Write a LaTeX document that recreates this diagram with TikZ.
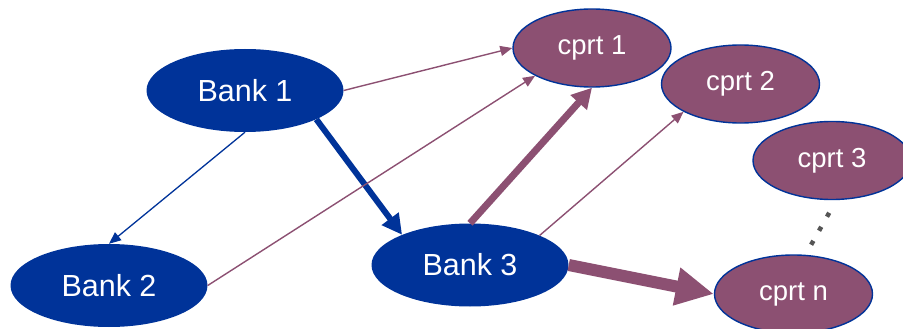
\documentclass[tikz,border=0pt]{standalone}
\usepackage{fontspec}
\setmainfont{Liberation Sans}
\usetikzlibrary{shapes.geometric,arrows.meta}
\definecolor{bankblue}{RGB}{0,51,153}
\definecolor{cprtpurple}{RGB}{140,80,114}
\definecolor{dotgray}{RGB}{85,85,85}
\tikzset{
  bank/.style={ellipse, fill=bankblue, draw=none, inner sep=0pt,
    minimum width=197pt, minimum height=83pt, text=white,
    font=\fontsize{30.5}{32}\selectfont},
  cprt/.style={ellipse, fill=cprtpurple, draw=bankblue, line width=1.4pt, inner sep=0pt,
    minimum width=158pt, minimum height=78pt, text=white,
    font=\fontsize{27.5}{29}\selectfont},
  thinblue/.style={draw=bankblue, line width=1.3pt,
    -{Triangle[length=12pt,width=10pt]}},
  thinpurple/.style={draw=cprtpurple, line width=1.4pt,
    -{Triangle[length=12pt,width=10pt]}},
  thickblue/.style={draw=bankblue, line width=6pt,
    -{Triangle[length=20pt,width=20pt]}},
  thickpurple/.style={draw=cprtpurple, line width=7pt,
    -{Triangle[length=20pt,width=21pt]}},
  heavypurple/.style={draw=cprtpurple, line width=12pt,
    -{Triangle[length=38pt,width=36pt]}},
  ellipsis/.style={draw=dotgray, line width=4.5pt, dash pattern=on 4.5pt off 11.6pt},
}
\begin{document}
\begin{tikzpicture}[x=1pt,y=-1pt]
  \useasboundingbox (0,0) rectangle (903,329);
  \clip (0,0) rectangle (903,329);

  % banks
  \node[bank] (b1) at (245,90.5) {Bank 1};
  \node[bank] (b2) at (109,285.5) {Bank 2};
  \node[bank] (b3) at (470,265) {Bank 3};

  % counterparties
  \node[cprt] (c1) at (592,48) {cprt 1};
  \node[cprt] (c2) at (740.5,84) {cprt 2};
  \node[cprt] (c3) at (832,160.5) {cprt 3};
  \node[cprt] (cn) at (793.5,294) {cprt n};

  % exposures
  \draw[thinpurple] (b1.east) -- (c1.west);
  \draw[thinblue] (b1.south) -- (b2.north);
  \draw[thickblue] (b1.-22) -- (b3.156);
  \draw[thinpurple] (b2.east) -- (c1.206);
  \draw[thickpurple] (b3.north) -- (c1.south);
  \draw[thinpurple] (b3.23) -- (c2.206);
  \draw[heavypurple] (b3.east) -- (cn.west);

  % further counterparties
  \coordinate (d1) at (829.2,212.8);
  \coordinate (d2) at (811,245);
  \draw[ellipsis] (d1) -- (d2);
\end{tikzpicture}
\end{document}
